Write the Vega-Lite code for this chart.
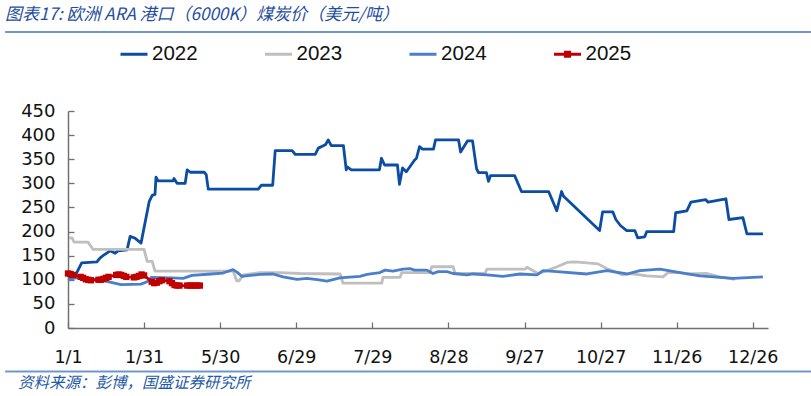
{
  "$schema": "https://vega.github.io/schema/vega-lite/v6.json",
  "width": 700,
  "height": 217,
  "autosize": {"type": "none"},
  "padding": {"left": 68, "top": 111, "right": 43, "bottom": 68},
  "background": "white",
  "config": {
    "view": {"stroke": null},
    "font": "DejaVu Sans",
    "axis": {"grid": false, "title": null, "domainColor": "#707070", "domainWidth": 1.5, "tickColor": "#707070", "tickWidth": 1.3, "tickSize": -6,
      "labelFont": "DejaVu Sans", "labelFontSize": 17.5, "labelColor": "#111111", "labelOverlap": false, "labelFlush": false},
    "axisX": {"labelPadding": 26},
    "axisY": {"labelPadding": 19, "labelFontSize": 18}
  },
  "datasets": {
    "prices": [
      {"s":"2022","d":0.5,"v":103},{"s":"2022","d":2.8,"v":108},{"s":"2022","d":5.4,"v":135},{"s":"2022","d":11.4,"v":137},{"s":"2022","d":12.6,"v":145},{"s":"2022","d":13.8,"v":150},{"s":"2022","d":16.6,"v":160},{"s":"2022","d":18.6,"v":155},{"s":"2022","d":19.7,"v":160},{"s":"2022","d":23.3,"v":162},{"s":"2022","d":24.5,"v":190},{"s":"2022","d":26.5,"v":186},{"s":"2022","d":28.8,"v":176},{"s":"2022","d":32.0,"v":262},{"s":"2022","d":33.2,"v":275},{"s":"2022","d":34.3,"v":277},{"s":"2022","d":34.7,"v":313},{"s":"2022","d":35.5,"v":305},{"s":"2022","d":41.5,"v":305},{"s":"2022","d":41.8,"v":310},{"s":"2022","d":43.0,"v":300},{"s":"2022","d":46.2,"v":300},{"s":"2022","d":47.0,"v":328},{"s":"2022","d":48.2,"v":323},{"s":"2022","d":53.7,"v":323},{"s":"2022","d":54.5,"v":318},{"s":"2022","d":55.3,"v":288},{"s":"2022","d":75.0,"v":288},{"s":"2022","d":76.2,"v":296},{"s":"2022","d":80.7,"v":296},{"s":"2022","d":81.7,"v":368},{"s":"2022","d":88.4,"v":368},{"s":"2022","d":89.6,"v":360},{"s":"2022","d":97.5,"v":360},{"s":"2022","d":98.7,"v":373},{"s":"2022","d":101.5,"v":380},{"s":"2022","d":102.6,"v":390},{"s":"2022","d":103.8,"v":378},{"s":"2022","d":108.6,"v":378},{"s":"2022","d":109.7,"v":328},{"s":"2022","d":110.1,"v":334},{"s":"2022","d":111.7,"v":328},{"s":"2022","d":122.8,"v":328},{"s":"2022","d":123.6,"v":352},{"s":"2022","d":124.8,"v":338},{"s":"2022","d":129.9,"v":338},{"s":"2022","d":130.7,"v":298},{"s":"2022","d":131.9,"v":332},{"s":"2022","d":133.4,"v":324},{"s":"2022","d":136.6,"v":348},{"s":"2022","d":137.4,"v":352},{"s":"2022","d":138.6,"v":376},{"s":"2022","d":139.8,"v":371},{"s":"2022","d":144.1,"v":371},{"s":"2022","d":144.9,"v":390},{"s":"2022","d":154.0,"v":390},{"s":"2022","d":154.8,"v":365},{"s":"2022","d":157.5,"v":388},{"s":"2022","d":159.5,"v":388},{"s":"2022","d":161.1,"v":330},{"s":"2022","d":161.9,"v":322},{"s":"2022","d":165.0,"v":322},{"s":"2022","d":165.8,"v":304},{"s":"2022","d":166.6,"v":316},{"s":"2022","d":176.1,"v":316},{"s":"2022","d":178.8,"v":283},{"s":"2022","d":189.5,"v":283},{"s":"2022","d":192.7,"v":243},{"s":"2022","d":194.6,"v":283},{"s":"2022","d":195.4,"v":273},{"s":"2022","d":209.6,"v":202},{"s":"2022","d":210.8,"v":241},{"s":"2022","d":214.8,"v":241},{"s":"2022","d":216.0,"v":225},{"s":"2022","d":217.9,"v":212},{"s":"2022","d":220.3,"v":202},{"s":"2022","d":223.5,"v":202},{"s":"2022","d":224.6,"v":187},{"s":"2022","d":227.4,"v":189},{"s":"2022","d":228.2,"v":200},{"s":"2022","d":238.8,"v":200},{"s":"2022","d":239.6,"v":239},{"s":"2022","d":244.0,"v":243},{"s":"2022","d":245.6,"v":261},{"s":"2022","d":251.5,"v":266},{"s":"2022","d":252.3,"v":261},{"s":"2022","d":259.4,"v":268},{"s":"2022","d":260.6,"v":225},{"s":"2022","d":266.1,"v":229},{"s":"2022","d":267.7,"v":195},{"s":"2022","d":274.0,"v":195},
      {"s":"2023","d":0.4,"v":187},{"s":"2023","d":1.6,"v":187},{"s":"2023","d":2.4,"v":178},{"s":"2023","d":7.9,"v":178},{"s":"2023","d":9.9,"v":163},{"s":"2023","d":30.0,"v":163},{"s":"2023","d":31.2,"v":138},{"s":"2023","d":33.2,"v":138},{"s":"2023","d":34.3,"v":118},{"s":"2023","d":65.1,"v":118},{"s":"2023","d":66.5,"v":98},{"s":"2023","d":67.5,"v":98},{"s":"2023","d":69.1,"v":110},{"s":"2023","d":75.7,"v":115},{"s":"2023","d":83.6,"v":115},{"s":"2023","d":91.5,"v":113},{"s":"2023","d":107.3,"v":112},{"s":"2023","d":108.4,"v":93},{"s":"2023","d":123.7,"v":93},{"s":"2023","d":124.2,"v":105},{"s":"2023","d":130.9,"v":105},{"s":"2023","d":131.6,"v":115},{"s":"2023","d":142.7,"v":115},{"s":"2023","d":143.4,"v":127},{"s":"2023","d":151.8,"v":127},{"s":"2023","d":152.6,"v":113},{"s":"2023","d":164.4,"v":113},{"s":"2023","d":165.2,"v":122},{"s":"2023","d":180.2,"v":122},{"s":"2023","d":181.0,"v":126},{"s":"2023","d":185.3,"v":113},{"s":"2023","d":188.9,"v":119},{"s":"2023","d":192.8,"v":127},{"s":"2023","d":196.8,"v":136},{"s":"2023","d":199.9,"v":137},{"s":"2023","d":209.0,"v":133},{"s":"2023","d":212.9,"v":122},{"s":"2023","d":218.8,"v":110},{"s":"2023","d":221.6,"v":113},{"s":"2023","d":228.3,"v":108},{"s":"2023","d":234.6,"v":106},{"s":"2023","d":236.6,"v":115},{"s":"2023","d":241.3,"v":115},{"s":"2023","d":244.1,"v":112},{"s":"2023","d":252.0,"v":113},{"s":"2023","d":257.1,"v":106},{"s":"2023","d":263.0,"v":101},
      {"s":"2024","d":0,"v":99},{"s":"2024","d":2.0,"v":103},{"s":"2024","d":4.7,"v":105},{"s":"2024","d":11.4,"v":101},{"s":"2024","d":16.6,"v":95},{"s":"2024","d":20.9,"v":90},{"s":"2024","d":28.8,"v":91},{"s":"2024","d":31.2,"v":96},{"s":"2024","d":32.8,"v":105},{"s":"2024","d":41.0,"v":104},{"s":"2024","d":45.4,"v":103},{"s":"2024","d":48.9,"v":109},{"s":"2024","d":56.4,"v":112},{"s":"2024","d":61.1,"v":114},{"s":"2024","d":65.1,"v":121},{"s":"2024","d":66.6,"v":116},{"s":"2024","d":68.6,"v":107},{"s":"2024","d":71.8,"v":109},{"s":"2024","d":75.7,"v":111},{"s":"2024","d":80.8,"v":112},{"s":"2024","d":84.8,"v":106},{"s":"2024","d":90.3,"v":101},{"s":"2024","d":94.2,"v":103},{"s":"2024","d":99.0,"v":100},{"s":"2024","d":102.1,"v":97},{"s":"2024","d":107.2,"v":104},{"s":"2024","d":115.1,"v":107},{"s":"2024","d":117.9,"v":111},{"s":"2024","d":123.0,"v":115},{"s":"2024","d":125.0,"v":120},{"s":"2024","d":128.1,"v":118},{"s":"2024","d":132.1,"v":122},{"s":"2024","d":134.8,"v":123},{"s":"2024","d":136.7,"v":120},{"s":"2024","d":141.5,"v":120},{"s":"2024","d":143.9,"v":113},{"s":"2024","d":145.9,"v":117},{"s":"2024","d":149.4,"v":117},{"s":"2024","d":151.8,"v":113},{"s":"2024","d":157.3,"v":110},{"s":"2024","d":159.7,"v":112},{"s":"2024","d":165.2,"v":110},{"s":"2024","d":171.5,"v":107},{"s":"2024","d":178.2,"v":112},{"s":"2024","d":184.9,"v":110},{"s":"2024","d":187.3,"v":119},{"s":"2024","d":192.8,"v":117},{"s":"2024","d":204.6,"v":112},{"s":"2024","d":212.5,"v":119},{"s":"2024","d":220.4,"v":112},{"s":"2024","d":225.5,"v":119},{"s":"2024","d":233.4,"v":122},{"s":"2024","d":241.3,"v":115},{"s":"2024","d":249.2,"v":108},{"s":"2024","d":262.2,"v":103},{"s":"2024","d":274.0,"v":106},
      {"s":"2025","d":0,"v":113},{"s":"2025","d":1,"v":112},{"s":"2025","d":2,"v":110},{"s":"2025","d":5,"v":106},{"s":"2025","d":6,"v":104},{"s":"2025","d":7,"v":101},{"s":"2025","d":8,"v":100},{"s":"2025","d":9,"v":99},{"s":"2025","d":12,"v":100},{"s":"2025","d":13,"v":100},{"s":"2025","d":14,"v":102},{"s":"2025","d":15,"v":104},{"s":"2025","d":16,"v":106},{"s":"2025","d":19,"v":110},{"s":"2025","d":20,"v":111},{"s":"2025","d":21,"v":110},{"s":"2025","d":22,"v":108},{"s":"2025","d":23,"v":106},{"s":"2025","d":26,"v":105},{"s":"2025","d":27,"v":106},{"s":"2025","d":28,"v":108},{"s":"2025","d":29,"v":111},{"s":"2025","d":30,"v":109},{"s":"2025","d":33,"v":96},{"s":"2025","d":34,"v":93},{"s":"2025","d":35,"v":94},{"s":"2025","d":36,"v":97},{"s":"2025","d":37,"v":99},{"s":"2025","d":40,"v":97},{"s":"2025","d":41,"v":93},{"s":"2025","d":42,"v":89},{"s":"2025","d":43,"v":88},{"s":"2025","d":44,"v":88},{"s":"2025","d":47,"v":88},{"s":"2025","d":48,"v":88},{"s":"2025","d":49,"v":88},{"s":"2025","d":50,"v":88},{"s":"2025","d":51,"v":88},{"s":"2025","d":52,"v":88}
    ]
  },
  "layer": [
    {
      "data": {"name": "prices"},
      "mark": {"type": "line", "strokeWidth": 2.8, "strokeJoin": "round"},
      "encoding": {
        "x": {"field": "d", "type": "quantitative",
          "scale": {"domain": [0, 276], "nice": false, "zero": false},
          "axis": {"values": [0,30,60,90,120,150,180,210,240,270], "labelOverlap": false,
            "labelExpr": "['1/1','1/31','5/30','6/29','7/29','8/28','9/27','10/27','11/26','12/26'][round(datum.value/30)]"}},
        "y": {"field": "v", "type": "quantitative",
          "scale": {"domain": [0, 450], "nice": false, "zero": false},
          "axis": {"values": [0,50,100,150,200,250,300,350,400,450], "labelOverlap": false}},
        "color": {"field": "s", "type": "nominal",
          "scale": {"domain": ["2022","2023","2024","2025"], "range": ["#0B4DA2","#BFBFBF","#4A7FC9","#C00000"]},
          "legend": {"orient": "none", "legendX": 51, "legendY": -72, "direction": "horizontal", "title": null,
            "padding": 0, "symbolType": "stroke", "symbolSize": 729, "symbolStrokeWidth": 3,
            "labelFont": "Liberation Sans", "labelFontSize": 20.5, "labelColor": "#111111", "labelOffset": 3, "columnPadding": 60.5,
            "encode": {"symbols": {"update": {
              "shape": {"signal": "datum.value === '2025' ? 'M-1,0H1M-0.15,-0.15H0.15V0.15H-0.15Z' : 'stroke'"},
              "fill": {"signal": "datum.value === '2025' ? '#C00000' : 'transparent'"}}}}}}
      }
    },
    {
      "data": {"name": "prices"},
      "transform": [{"filter": "datum.s === '2025'"}],
      "mark": {"type": "point", "shape": "square", "filled": true, "size": 40, "color": "#C00000", "opacity": 1},
      "encoding": {
        "x": {"field": "d", "type": "quantitative", "axis": {"values": [0,30,60,90,120,150,180,210,240,270], "labelOverlap": false,
            "labelExpr": "['1/1','1/31','5/30','6/29','7/29','8/28','9/27','10/27','11/26','12/26'][round(datum.value/30)]"}},
        "y": {"field": "v", "type": "quantitative", "axis": {"values": [0,50,100,150,200,250,300,350,400,450], "labelOverlap": false}}
      }
    },
    {
      "data": {"values": [{}]},
      "mark": {"type": "rule", "color": "#6E97CC", "strokeWidth": 1.8},
      "encoding": {"x": {"datum": -24.8, "type": "quantitative", "axis": {"values": [0,30,60,90,120,150,180,210,240,270], "labelOverlap": false,
            "labelExpr": "['1/1','1/31','5/30','6/29','7/29','8/28','9/27','10/27','11/26','12/26'][round(datum.value/30)]"}},
        "x2": {"datum": 293}, "y": {"datum": 613.8, "type": "quantitative", "axis": {"values": [0,50,100,150,200,250,300,350,400,450], "labelOverlap": false}}}
    },
    {
      "data": {"values": [{}]},
      "mark": {"type": "rule", "color": "#6E97CC", "strokeWidth": 1.8},
      "encoding": {"x": {"datum": -24.8, "type": "quantitative", "axis": {"values": [0,30,60,90,120,150,180,210,240,270], "labelOverlap": false,
            "labelExpr": "['1/1','1/31','5/30','6/29','7/29','8/28','9/27','10/27','11/26','12/26'][round(datum.value/30)]"}},
        "x2": {"datum": 293}, "y": {"datum": -90.2, "type": "quantitative", "axis": {"values": [0,50,100,150,200,250,300,350,400,450], "labelOverlap": false}}}
    },
    {
      "data": {"values": [{}]},
      "mark": {"type": "text", "text": "图表17: 欧洲 ARA 港口（6000K）煤炭价（美元/吨）", "align": "left", "baseline": "middle",
        "font": "Noto Sans CJK SC", "fontStyle": "italic", "fontSize": 17, "color": "#1F4E9E"},
      "encoding": {"x": {"datum": -24.8, "type": "quantitative", "axis": {"values": [0,30,60,90,120,150,180,210,240,270], "labelOverlap": false,
            "labelExpr": "['1/1','1/31','5/30','6/29','7/29','8/28','9/27','10/27','11/26','12/26'][round(datum.value/30)]"}},
        "y": {"datum": 649, "type": "quantitative", "axis": {"values": [0,50,100,150,200,250,300,350,400,450], "labelOverlap": false}}}
    },
    {
      "data": {"values": [{}]},
      "mark": {"type": "text", "text": "资料来源：彭博，国盛证券研究所", "align": "left", "baseline": "middle",
        "font": "Noto Sans CJK SC", "fontStyle": "italic", "fontSize": 15.5, "color": "#1F5AA6"},
      "encoding": {"x": {"datum": -19.7, "type": "quantitative", "axis": {"values": [0,30,60,90,120,150,180,210,240,270], "labelOverlap": false,
            "labelExpr": "['1/1','1/31','5/30','6/29','7/29','8/28','9/27','10/27','11/26','12/26'][round(datum.value/30)]"}},
        "y": {"datum": -114.1, "type": "quantitative", "axis": {"values": [0,50,100,150,200,250,300,350,400,450], "labelOverlap": false}}}
    }
  ]
}
